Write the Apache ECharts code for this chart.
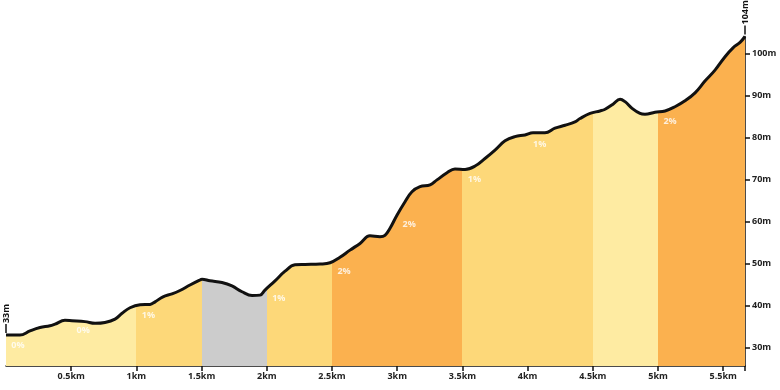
<!DOCTYPE html>
<html>
<head>
<meta charset="utf-8">
<script src="https://cdn.jsdelivr.net/npm/echarts@6/dist/echarts.min.js"></script>
<style>
html,body{margin:0;padding:0;background:#fff;}
#chart{width:780px;height:390px;}
</style>
</head>
<body>
<div id="chart"></div>
<script>
// Distance along route (km)
const distances = [0, 0.107, 0.184, 0.261, 0.337, 0.376, 0.452, 0.506, 0.606, 0.683, 0.759, 0.836, 0.890, 0.951,
  1.028, 1.104, 1.143, 1.204, 1.273, 1.334, 1.411, 1.488, 1.503, 1.564, 1.656, 1.733, 1.810, 1.887, 1.948, 1.986,
  2.063, 2.140, 2.216, 2.293, 2.408, 2.485, 2.561, 2.638, 2.715, 2.791, 2.868, 2.906, 2.945, 2.998,
  3.060, 3.113, 3.175, 3.252, 3.305, 3.382, 3.443, 3.520, 3.597, 3.673, 3.750, 3.827, 3.903, 3.980,
  4.041, 4.133, 4.210, 4.287, 4.363, 4.402, 4.479, 4.555, 4.594, 4.655, 4.709, 4.747, 4.801, 4.862, 4.900, 4.977,
  5.054, 5.130, 5.207, 5.284, 5.360, 5.437, 5.514, 5.575, 5.629, 5.667];
// Elevation (m)
const elevations = [33, 33.0, 34.0, 34.8, 35.2, 35.6, 36.5, 36.4, 36.2, 35.8, 36.0, 36.8, 38.2, 39.5,
  40.2, 40.3, 40.9, 42.1, 42.8, 43.6, 44.9, 46.1, 46.3, 45.9, 45.5, 44.7, 43.3, 42.4, 42.5, 43.7,
  45.9, 48.2, 49.7, 49.8, 49.9, 50.2, 51.5, 53.2, 54.8, 56.6, 56.4, 56.7, 58.4, 61.5,
  64.7, 67.1, 68.3, 68.7, 69.9, 71.6, 72.5, 72.4, 73.2, 75.0, 77.0, 79.2, 80.2, 80.6,
  81.1, 81.1, 82.2, 82.9, 83.7, 84.5, 85.7, 86.3, 86.7, 87.9, 89.1, 88.5, 86.9, 85.7, 85.5, 86.0,
  86.3, 87.3, 88.7, 90.6, 93.4, 96.0, 99.2, 101.3, 102.6, 104];
// Segments (every 0.5 km)
const segmentStarts = [0, 0.5, 1, 1.5, 2, 2.5, 3, 3.5, 4, 4.5, 5, 5.5];
const segmentGrades = ['0%', '0%', '1%', '', '1%', '2%', '2%', '1%', '1%', '', '2%', ''];
const segmentColors = ['#FEEBA2', '#FEEBA2', '#FDD879', '#CCCCCC', '#FDD879', '#FBB14F', '#FBB14F',
  '#FDD879', '#FDD879', '#FEEBA2', '#FBB14F', '#FBB14F'];
// Axis ticks
const xTicks = [0.5, 1, 1.5, 2, 2.5, 3, 3.5, 4, 4.5, 5, 5.5];
const yTicks = [30, 40, 50, 60, 70, 80, 90, 100];

const maxDist = distances[distances.length - 1];
const startElev = elevations[0];
const endElev = elevations[elevations.length - 1];

const profile = distances.map((d, i) => [d, elevations[i]]);

function elevAt(d) {
  for (let i = 0; i < distances.length - 1; i++) {
    if (d >= distances[i] && d <= distances[i + 1]) {
      const t = (d - distances[i]) / (distances[i + 1] - distances[i]);
      return elevations[i] + t * (elevations[i + 1] - elevations[i]);
    }
  }
  return elevations[elevations.length - 1];
}

const pieces = segmentStarts.map((s, i) => {
  const p = { gte: s, color: segmentColors[i] };
  if (i < segmentStarts.length - 1) p.lt = segmentStarts[i + 1];
  return p;
});

const gradeLabels = segmentStarts.map((s, i) => ({ value: [s, elevAt(s)], grade: segmentGrades[i] }))
  .filter(o => o.grade !== '');

const FONT = '"Open Sans", sans-serif';
const chart = echarts.init(document.getElementById('chart'), null, { renderer: 'canvas' });

chart.setOption({
  animation: false,
  backgroundColor: '#fff',
  grid: { left: 6, right: 35, top: 36.5, bottom: 24 },
  xAxis: {
    type: 'value', min: 0, max: maxDist,
    axisLine: { show: true, onZero: false, lineStyle: { color: '#111', width: 1.5 } },
    axisTick: { show: true, length: 5, lineStyle: { color: '#111', width: 1.5 }, customValues: xTicks.concat([maxDist]) },
    axisLabel: { customValues: xTicks, formatter: v => v + 'km', color: '#222', fontSize: 9, fontWeight: 'bold', fontFamily: FONT, margin: 6 },
    splitLine: { show: false }
  },
  yAxis: {
    type: 'value', position: 'right', min: 25.65, max: endElev,
    axisLine: { show: true, onZero: false, lineStyle: { color: '#111', width: 1.5 } },
    axisTick: { show: true, length: 5, lineStyle: { color: '#111', width: 1.5 }, customValues: yTicks },
    axisLabel: { customValues: yTicks, formatter: v => v + 'm', color: '#222', fontSize: 9, fontWeight: 'bold', fontFamily: FONT, margin: 7 },
    splitLine: { show: false }
  },
  visualMap: {
    type: 'piecewise', show: false, dimension: 0, seriesIndex: 0, pieces: pieces
  },
  series: [
    {
      type: 'line', data: profile, smooth: 0.4, showSymbol: false, silent: true,
      lineStyle: { width: 0 },
      areaStyle: { opacity: 1 },
      z: 1
    },
    {
      type: 'scatter', data: gradeLabels, symbolSize: 0, silent: true, z: 3,
      label: {
        show: true, position: 'inside', offset: [12, 10],
        formatter: p => p.data.grade,
        color: '#fff', fontSize: 9, fontWeight: 'bold', fontFamily: FONT
      }
    },
    {
      type: 'line', data: profile, smooth: 0.4, showSymbol: false, silent: true,
      lineStyle: { width: 3, color: '#111' },
      z: 4,
      markPoint: {
        silent: true,
        symbol: 'rect',
        symbolSize: [1.5, 9],
        symbolOffset: [0, -6.5],
        itemStyle: { color: '#111' },
        label: {
          show: true, position: 'top', distance: 1, rotate: 90,
          align: 'left', verticalAlign: 'middle',
          color: '#111', fontSize: 9, fontWeight: 'bold', fontFamily: FONT,
          formatter: p => p.data.txt
        },
        data: [
          { coord: [0, startElev], txt: startElev + 'm' },
          { coord: [maxDist, endElev], txt: endElev + 'm' }
        ]
      }
    }
  ]
});
</script>
</body>
</html>
